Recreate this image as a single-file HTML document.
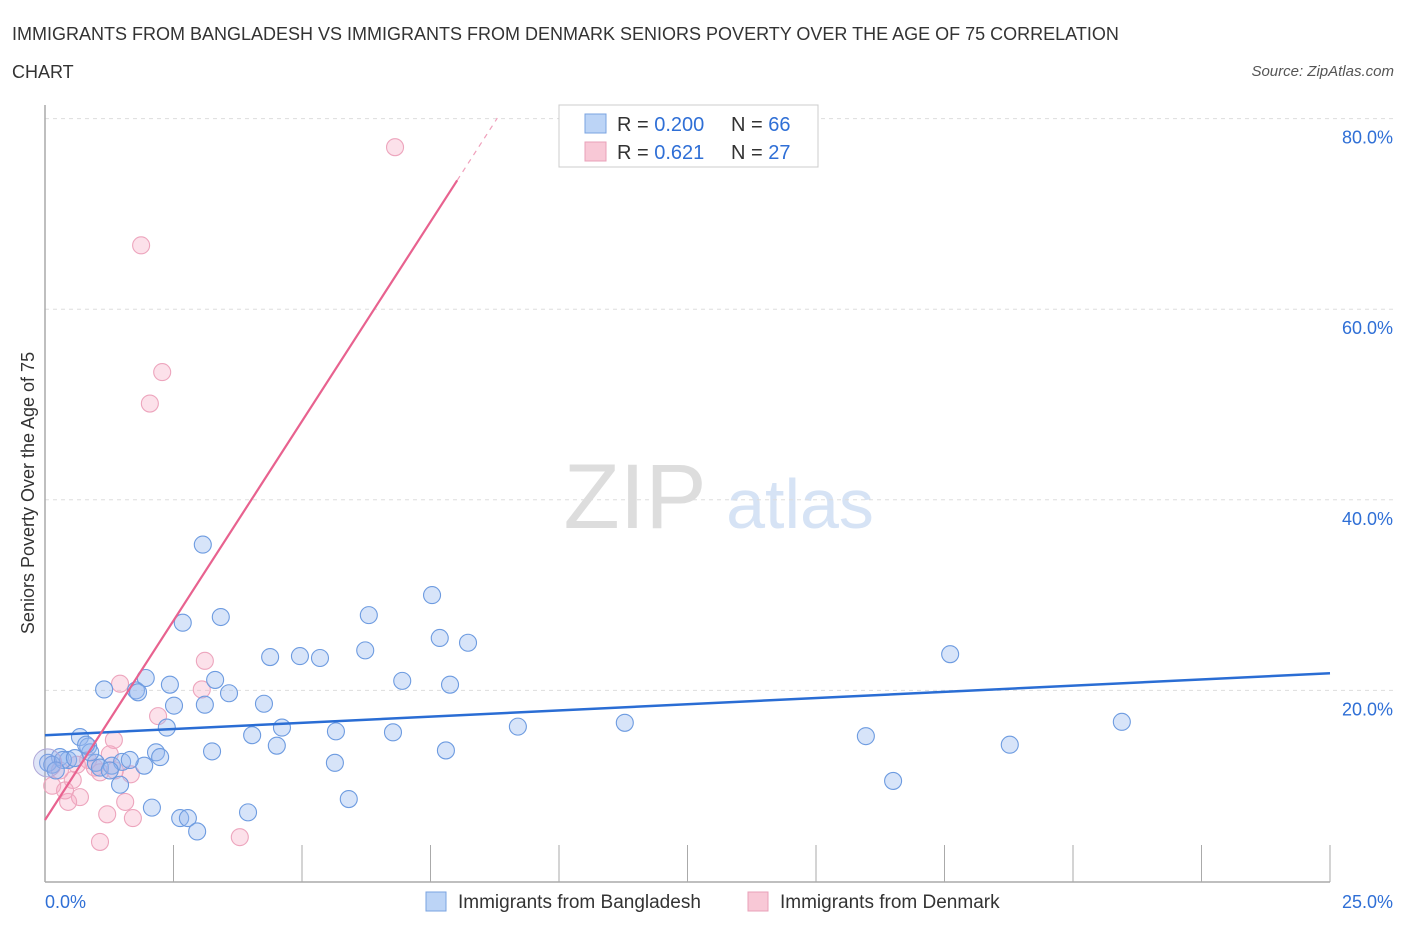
<!DOCTYPE html>
<html><head><meta charset="utf-8"><style>
body{margin:0;background:#fff;font-family:"Liberation Sans",sans-serif;}
svg text{font-family:"Liberation Sans",sans-serif;}
</style></head><body>
<svg id="chart" width="1406" height="930">
<text x="12" y="40" font-size="18" fill="#333">IMMIGRANTS FROM BANGLADESH VS IMMIGRANTS FROM DENMARK SENIORS POVERTY OVER THE AGE OF 75 CORRELATION</text>
<text x="12" y="78" font-size="18" fill="#333">CHART</text>
<text x="1394" y="76" font-size="15" fill="#555" font-style="italic" text-anchor="end">Source: ZipAtlas.com</text>
<text x="635" y="528" font-size="92" fill="#ddd" font-family="Liberation Serif" text-anchor="middle">ZIP</text>
<text x="800" y="528" font-size="70" fill="#d6e3f5" text-anchor="middle">atlas</text>
<text transform="translate(34,493) rotate(-90)" font-size="18" fill="#333" text-anchor="middle">Seniors Poverty Over the Age of 75</text>
<g id="grid"></g><g id="marks"></g>
<g>
<rect x="559" y="105" width="259" height="62" fill="#fff" stroke="#ccc"/>
<rect x="585" y="114" width="21" height="19" fill="#bcd4f6" stroke="#7aa3e0"/>
<rect x="585" y="142" width="21" height="19" fill="#f8c8d6" stroke="#e9a0b8"/>
<text x="617" y="131" font-size="20" fill="#333">R = <tspan fill="#2f6fd6">0.200</tspan></text>
<text x="731" y="131" font-size="20" fill="#333">N = <tspan fill="#2f6fd6">66</tspan></text>
<text x="617" y="159" font-size="20" fill="#333">R =  <tspan fill="#2f6fd6">0.621</tspan></text>
<text x="731" y="159" font-size="20" fill="#333">N = <tspan fill="#2f6fd6">27</tspan></text>
</g>
<rect x="426" y="892" width="20" height="19" fill="#bcd4f6" stroke="#7aa3e0"/>
<text x="458" y="908" font-size="19" fill="#333">Immigrants from Bangladesh</text>
<rect x="748" y="892" width="20" height="19" fill="#f8c8d6" stroke="#e9a0b8"/>
<text x="780" y="908" font-size="19" fill="#333">Immigrants from Denmark</text>
</svg>
<script>
const blueX=[1.15,0.68,0.84,0.29,0.06,0.14,0.45,0.99,1.07,1.30,1.50,1.46,1.77,1.96,1.81,2.43,2.51,2.37,2.16,2.24,1.93,2.08,2.63,2.78,2.96,3.07,2.68,3.42,3.31,3.58,3.11,3.25,3.95,4.03,4.26,4.38,4.61,4.51,4.96,5.35,5.66,5.64,5.91,6.30,6.23,6.95,6.77,7.53,7.68,8.23,7.88,7.80,9.20,11.28,15.97,16.50,17.61,18.77,20.95,0.88,1.26,0.35,0.21,0.58,1.65,0.80];
const blueY=[20.1,15.1,14.1,13.0,12.4,12.2,12.7,12.4,11.9,12.1,12.5,10.1,20.0,21.3,19.8,20.6,18.4,16.1,13.5,13.0,12.1,7.7,6.6,6.6,5.2,35.3,27.1,27.7,21.1,19.7,18.5,13.6,7.2,15.3,18.6,23.5,16.1,14.2,23.6,23.4,15.7,12.4,8.6,27.9,24.2,21.0,15.6,30.0,25.5,25.0,20.6,13.7,16.2,16.6,15.2,10.5,23.8,14.3,16.7,13.5,11.6,12.7,11.6,12.9,12.7,14.3];
const pinkX=[6.81,1.87,2.28,2.04,3.11,1.46,3.05,2.20,1.34,1.26,0.97,1.07,1.67,0.54,0.14,0.68,0.45,1.56,1.21,1.71,1.07,3.79,0.29,0.84,0.39,0.62,1.36];
const pinkY=[77.0,66.7,53.4,50.1,23.1,20.7,20.1,17.3,14.8,13.3,11.9,11.4,11.2,10.6,10.0,8.8,8.3,8.3,7.0,6.6,4.1,4.6,11.6,12.7,9.5,12.2,11.6];
const blueTrend=[15.3,0.26]; // intercept, slope
const pinkTrend=[6.4,8.37];
const yTicks=[20,40,60,80];
const yTickLabels=["20.0%","40.0%","60.0%","80.0%"];
const xTicks=[0,2.5,5,7.5,10,12.5,15,17.5,20,22.5,25];
const NS="http://www.w3.org/2000/svg";
const sx=v=>45+v*51.4, sy=v=>881-v*9.53;
function mk(t,a,p){const e=document.createElementNS(NS,t);for(const k in a)e.setAttribute(k,a[k]);p.appendChild(e);return e;}
const g=document.getElementById('grid'), m=document.getElementById('marks');
yTicks.forEach((t,i)=>{
 const l=mk('line',{x1:45,x2:1393,y1:sy(t),y2:sy(t),stroke:'#ddd','stroke-dasharray':'4,4'},g);
 
 
 const tx=mk('text',{x:1393,y:sy(t)+25,'font-size':18,fill:'#2f6fd6','text-anchor':'end'},g);
 tx.textContent=yTickLabels[i];
 
 
});
const ya=mk('line',{x1:45,x2:45,y1:105,y2:882,stroke:'#aaa','stroke-width':1.5},g);


const xa=mk('line',{x1:45,x2:1330,y1:882,y2:882,stroke:'#aaa','stroke-width':1.5},g);


xTicks.forEach(t=>{
 const l=mk('line',{x1:sx(t),x2:sx(t),y1:845,y2:882,stroke:'#aaa'},g);
 
 
});
const x0=mk('text',{x:45,y:908,'font-size':18,fill:'#2f6fd6'},g);x0.textContent='0.0%';


const x1=mk('text',{x:1393,y:908,'font-size':18,fill:'#2f6fd6','text-anchor':'end'},g);x1.textContent='25.0%';


function dots(X,Y,fill,stroke,name){X.forEach((x,i)=>{
 const c=mk('circle',{cx:sx(x),cy:sy(Y[i]),r:8.5,fill:fill,stroke:stroke,'stroke-width':1.1},m);
 
 
});}
dots(pinkX,pinkY,'rgba(245,170,195,0.35)','#eda5bd','denmark-point');
dots(blueX,blueY,'rgba(150,185,240,0.38)','#6d9be0','bangladesh-point');
const big=mk('circle',{cx:sx(0.05),cy:sy(12.4),r:14,fill:'rgba(150,170,230,0.3)',stroke:'#b0a8d8','stroke-width':1},m);


const bl=mk('line',{x1:sx(0),y1:sy(blueTrend[0]),x2:sx(25),y2:sy(blueTrend[0]+blueTrend[1]*25),stroke:'#2a6dd4','stroke-width':2.5},m);


const xe=8.02, xd=8.8;
const pl=mk('line',{x1:sx(0),y1:sy(pinkTrend[0]),x2:sx(xe),y2:sy(pinkTrend[0]+pinkTrend[1]*xe),stroke:'#e8628f','stroke-width':2.2},m);


const pd=mk('line',{x1:sx(xe),y1:sy(pinkTrend[0]+pinkTrend[1]*xe),x2:sx(xd),y2:sy(pinkTrend[0]+pinkTrend[1]*xd),stroke:'#f0a0bb','stroke-width':1.2,'stroke-dasharray':'5,5'},m);


</script>
</body></html>
